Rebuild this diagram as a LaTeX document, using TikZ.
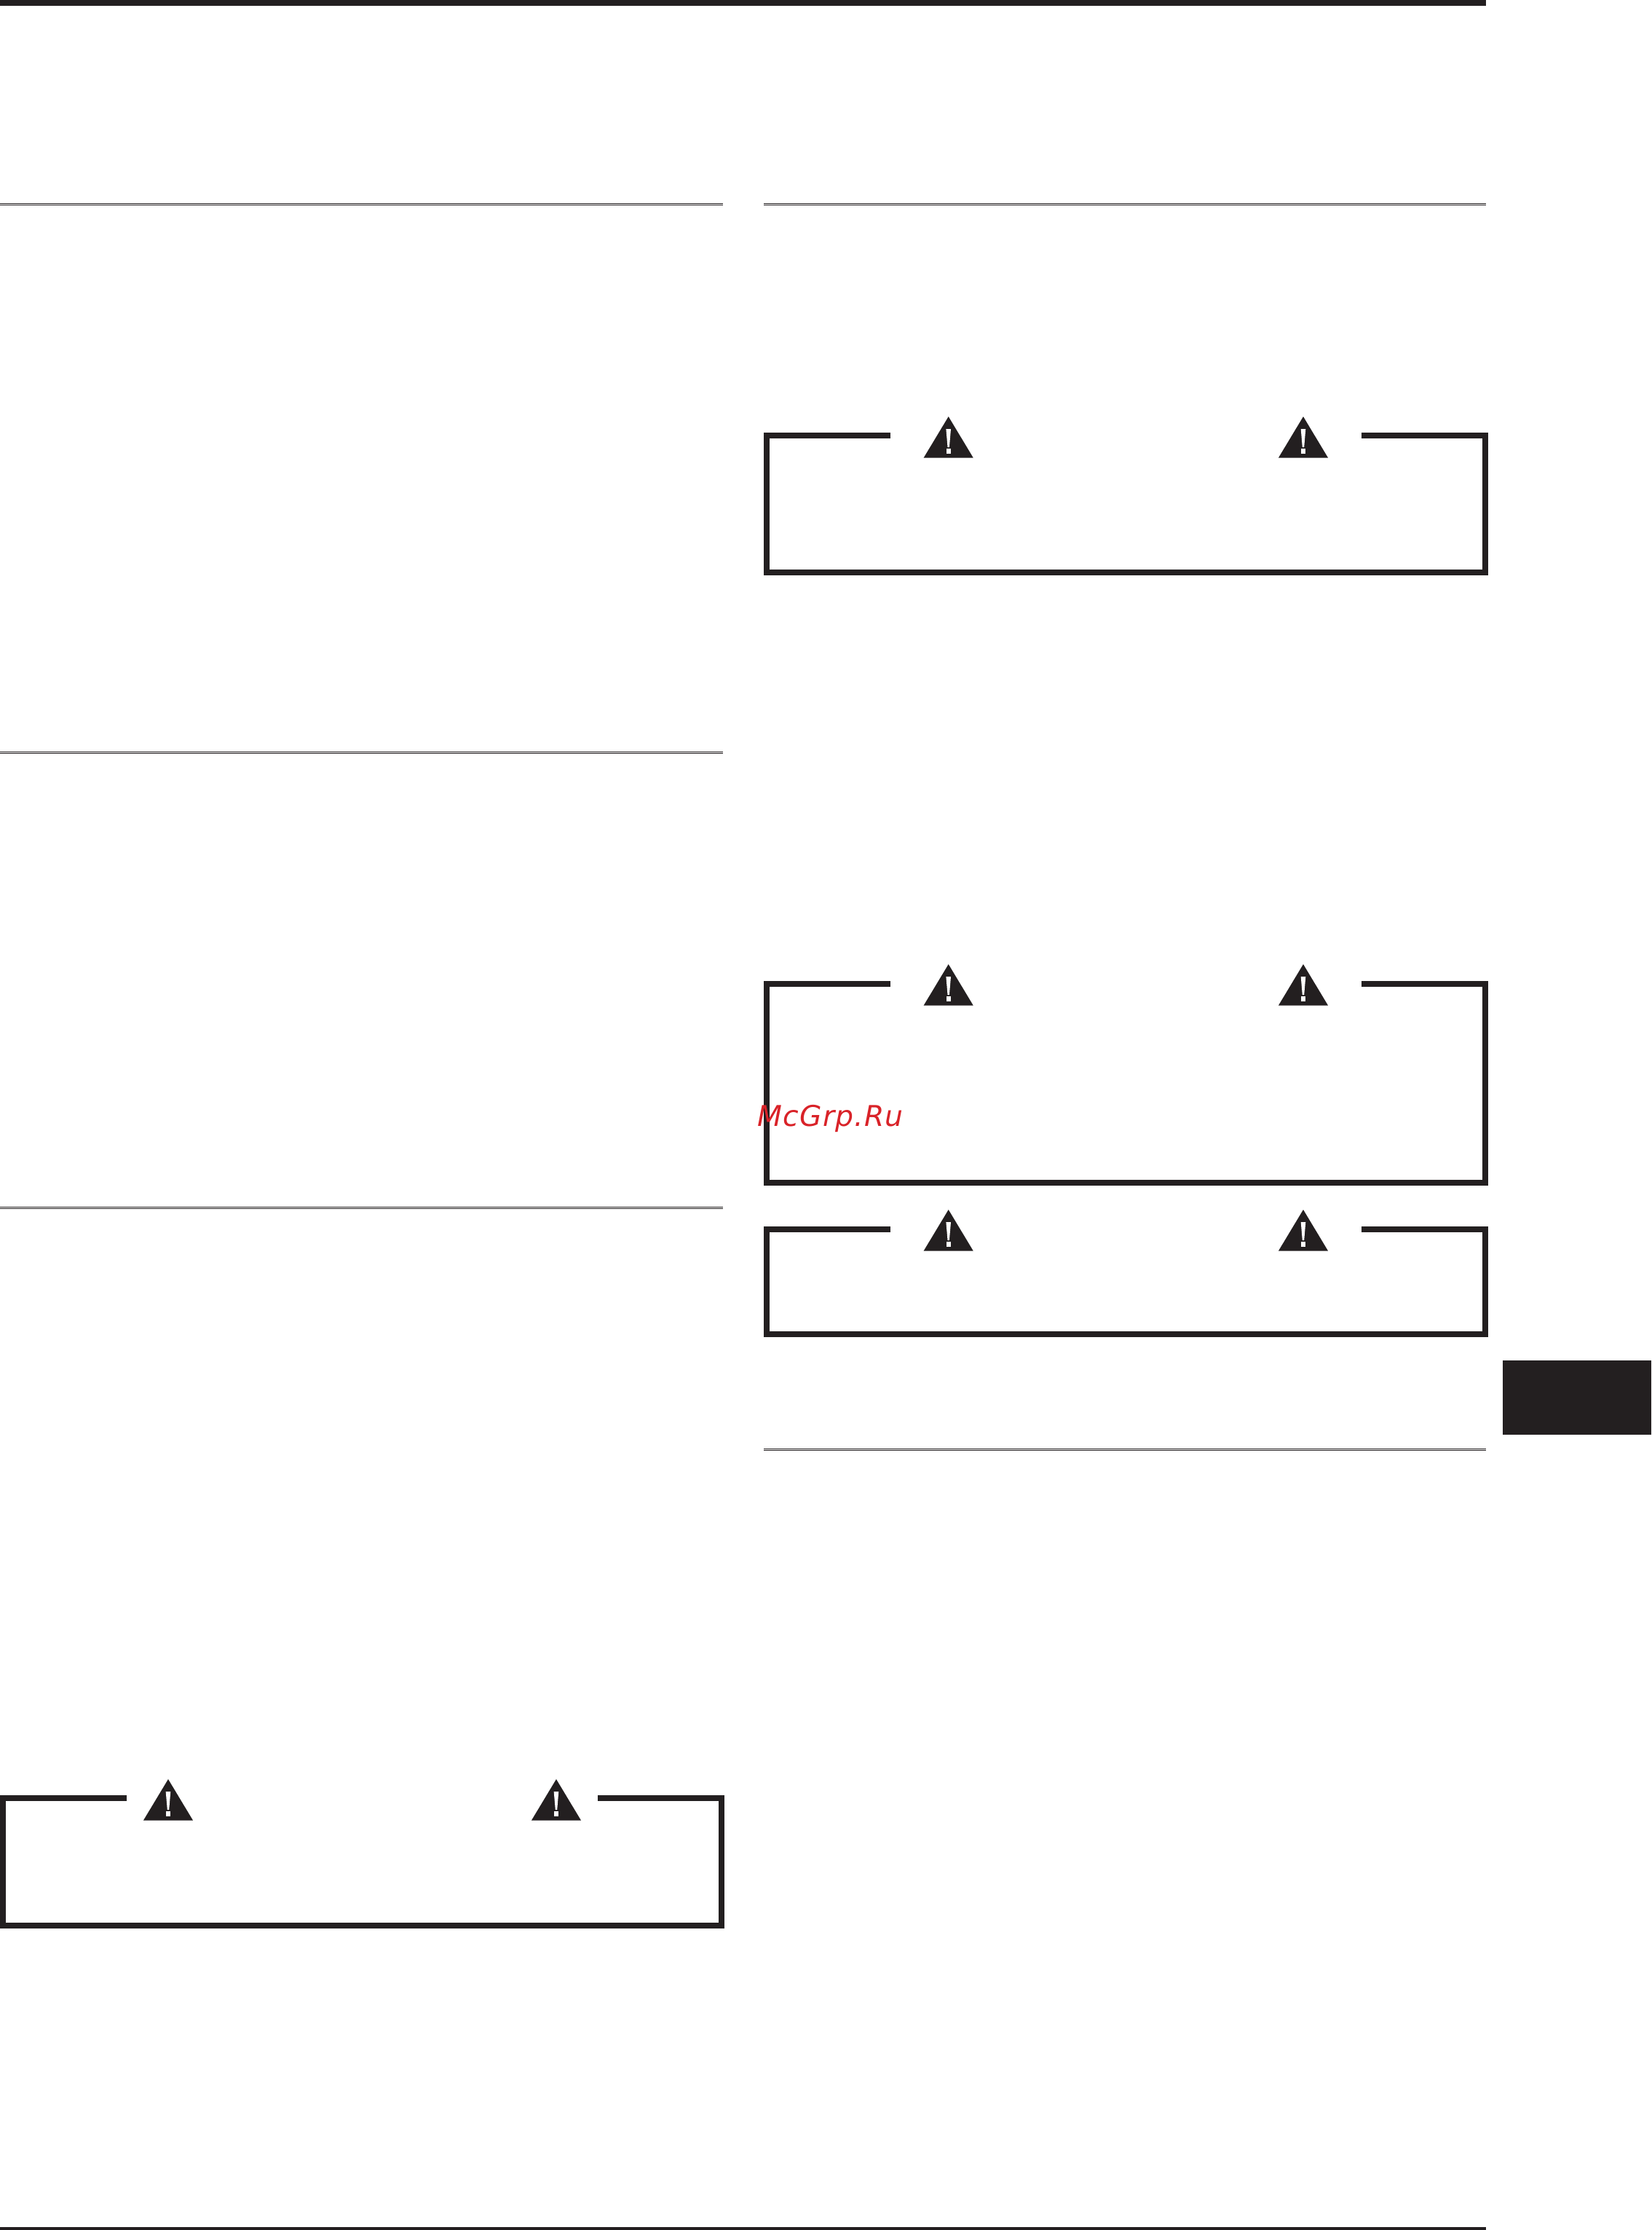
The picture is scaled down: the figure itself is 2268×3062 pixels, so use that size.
\documentclass[tikz,border=0pt]{standalone}
\usepackage{fontspec}
\newfontfamily\stampfont[LetterSpace=3]{DejaVu Sans}
\definecolor{inkblack}{HTML}{231F20}
\definecolor{stampred}{HTML}{D92228}
\tikzset{
  warnframe/.style={line width=0.08cm,inkblack,miter limit=10},
  sectionrule/.style={line width=0.0105cm,inkblack},
  warnmark/.pic={
    \fill[inkblack] (-34,56.5) -- (0,0) -- (34,56.5) -- cycle;
    \fill[white] (-3.3,17) -- (3.3,17) -- (1.2,42) -- (-1.2,42) -- cycle;
    \fill[white] (-3.2,44) rectangle (3.2,51);
  }
}
\begin{document}
\begin{tikzpicture}[x=0.01cm,y=-0.01cm]
    \useasboundingbox (0,0) rectangle (2268,3062);
    % page bars and side tab
    \fill[inkblack] (0,0) rectangle (2041,8);
    \fill[inkblack] (0,3058) rectangle (2041,3062);
    \fill[inkblack] (2064,1868) rectangle (2268,1970);
    % section rules
    \foreach \xa/\xb/\ya in {0/993/279.5,0/993/1032.5,0/993/1657.5,1049/2041/279.5,1049/2041/1989.5}{
      \draw[sectionrule] (\xa,\ya) -- (\xb,\ya);
      \draw[sectionrule] (\xa,\ya+2) -- (\xb,\ya+2);
    };
    % warning frames
    \foreach \xl/\xr/\yt/\yb/\xe/\xs in {1053/2040/598/786/1223/1870,1053/2040/1351/1624/1223/1870,1053/2040/1688/1832/1223/1870,4/991/2469/2644/174/821}{
      \draw[warnframe] (\xe,\yt) -- (\xl,\yt) -- (\xl,\yb) -- (\xr,\yb) -- (\xr,\yt) -- (\xs,\yt);
    };
    % warning marks
    \foreach \xm/\ym in {1302.7/572,1790/572,1302.7/1324,1790/1324,1302.7/1661,1790/1661,231/2443,764/2443}{
      \pic at (\xm,\ym) {warnmark};
    };
    \node[anchor=base west,inner sep=0pt,text=stampred] (stamp) at (1040,1546)
      {\stampfont\itshape\fontsize{11.18pt}{13pt}\selectfont McGrp.Ru};
\end{tikzpicture}
\end{document}
